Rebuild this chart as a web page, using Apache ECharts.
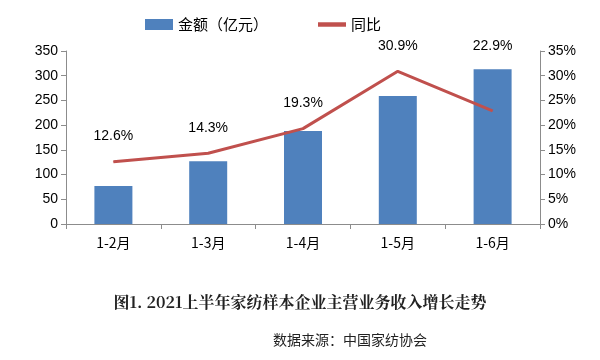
<!DOCTYPE html>
<html><head><meta charset="utf-8">
<script src="https://cdn.jsdelivr.net/npm/echarts@6/dist/echarts.min.js"></script>
<style>html,body{margin:0;padding:0;background:#fff}#c{width:600px;height:360px}</style>
</head><body><div id="c"></div>
<script>
var categories = ['1-2月','1-3月','1-4月','1-5月','1-6月'];
var amounts = [77, 127, 188, 259, 313];
var growth = [12.6, 14.3, 19.3, 30.9, 22.9];
var chart = echarts.init(document.getElementById('c'));
var txt = '#000';
var axisLine = {show:true, lineStyle:{color:'#8c8c8c', width:1}};
var growthData = growth.map(function(v, i){
  return i === growth.length - 1 ? {value:v, label:{distance:57}} : v;
});
chart.setOption({
  animation:false,
  title:[
    {text:'图1. 2021上半年家纺样本企业主营业务收入增长走势', left:'center', top:289,
     textStyle:{fontFamily:'"Noto Serif CJK SC","Noto Sans CJK SC",serif', fontWeight:'bold', fontSize:16, color:'#222'}},
    {text:'数据来源：中国家纺协会', left:268, top:328,
     textStyle:{fontFamily:'"Noto Sans CJK SC",sans-serif', fontWeight:'normal', fontSize:14, color:'#222'}}
  ],
  legend:{top:12, left:140, itemGap:50, itemWidth:28, itemHeight:11,
    textStyle:{fontFamily:'"Noto Sans CJK SC",sans-serif', fontSize:15, color:txt},
    data:[{name:'金额（亿元）', icon:'rect'},{name:'同比', icon:'path://M0,0h10v1.6h-10z'}]},
  grid:{left:66, right:60, top:51, bottom:136},
  xAxis:{type:'category', data:categories, axisLine:axisLine,
    axisTick:{show:true, length:5, lineStyle:{color:'#8c8c8c'}},
    axisLabel:{color:txt, fontSize:14, margin:12, fontFamily:'"Noto Sans CJK SC",sans-serif'}},
  yAxis:[
    {type:'value', min:0, max:350, interval:50, axisLine:axisLine,
     axisTick:{show:true, length:5, lineStyle:{color:'#8c8c8c'}}, splitLine:{show:false},
     axisLabel:{color:txt, fontSize:14, margin:8, fontFamily:'"Liberation Sans",sans-serif'}},
    {type:'value', min:0, max:35, interval:5, axisLine:axisLine,
     axisTick:{show:true, length:5, lineStyle:{color:'#8c8c8c'}}, splitLine:{show:false},
     axisLabel:{color:txt, fontSize:14, margin:8, formatter:'{value}%', fontFamily:'"Liberation Sans",sans-serif'}}
  ],
  series:[
    {name:'金额（亿元）', type:'bar', data:amounts, barWidth:38, itemStyle:{color:'#4F81BD'}},
    {name:'同比', type:'line', yAxisIndex:1, data:growthData, symbol:'circle', symbolSize:1, showSymbol:true,
     lineStyle:{color:'#C0504D', width:3}, itemStyle:{color:'#C0504D'},
     label:{show:true, position:'top', distance:18, formatter:'{c}%', color:txt, fontSize:14,
            fontFamily:'"Liberation Sans",sans-serif'}}
  ]
});
</script></body></html>
